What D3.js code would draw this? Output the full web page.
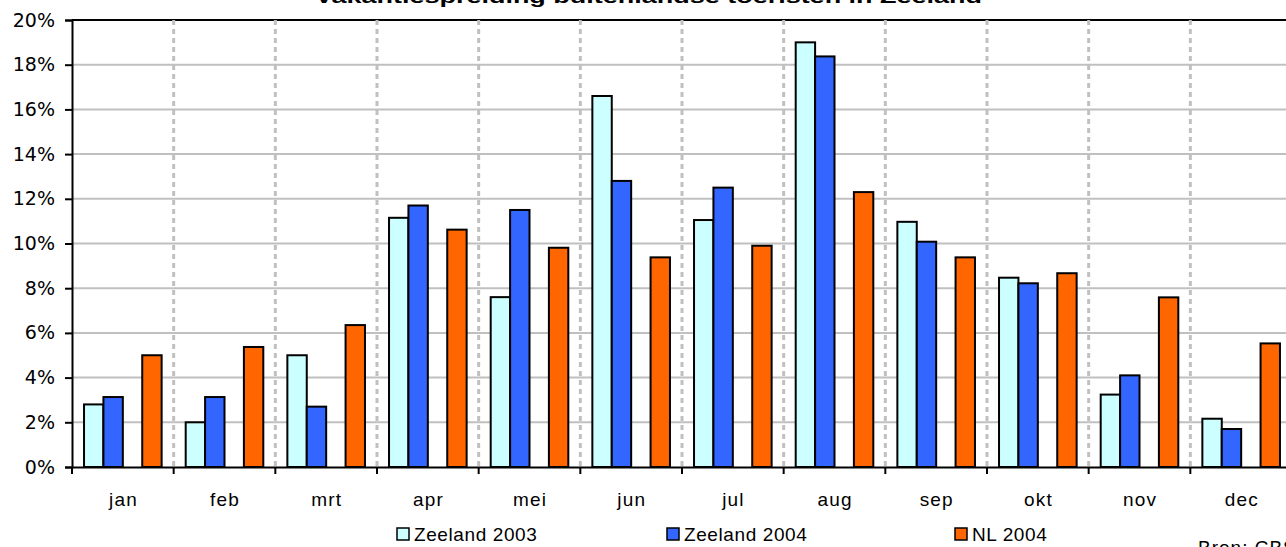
<!DOCTYPE html>
<html>
<head>
<meta charset="utf-8">
<script src="https://cdn.jsdelivr.net/npm/d3@7/dist/d3.min.js"></script>
<style>
  html, body { margin: 0; padding: 0; background: #fff; overflow: hidden; }
  svg { display: block; }
</style>
</head>
<body>
<svg id="chart" width="1286" height="547"></svg>
<script>
// ---- data ----
const months = ["jan","feb","mrt","apr","mei","jun","jul","aug","sep","okt","nov","dec"];
const zeeland2003 = [2.8, 2.0, 5.0, 11.15, 7.6, 16.6, 11.05, 19.0, 10.97, 8.47, 3.24, 2.16];
const zeeland2004 = [3.13, 3.13, 2.7, 11.7, 11.5, 12.8, 12.5, 18.37, 10.08, 8.22, 4.1, 1.7];
const nl2004 = [5.0, 5.37, 6.35, 10.62, 9.81, 9.38, 9.9, 12.3, 9.38, 8.67, 7.59, 5.53];
const seriesNames = ["Zeeland 2003", "Zeeland 2004", "NL 2004"];
const slotKeys = ["Zeeland 2003", "Zeeland 2004", "", "NL 2004"]; // third slot is empty in the original
const yTicks = [0, 2, 4, 6, 8, 10, 12, 14, 16, 18, 20];
const chartTitle = "Vakantiespreiding buitenlandse toeristen in Zeeland";
const sourceText = "Bron: CBS";

(function () {
const seriesValues = [zeeland2003, zeeland2004, nl2004];
const colors = ["#ccffff", "#3366ff", "#ff6600"];

const svg = d3.select("#chart");
const pLeft = 72, pTop = 20, pBottom = 467, pRight = 1292;

const x0 = d3.scaleBand().domain(months).range([pLeft, pRight]).paddingInner(0).paddingOuter(0);
const x1 = d3.scaleBand().domain(slotKeys).range([0, x0.bandwidth()]).paddingInner(0).paddingOuter(0.62);
const y = d3.scaleLinear().domain([0, 20]).range([pBottom, pTop]);

// gridlines
svg.append("g").selectAll("line").data(yTicks.filter(t => t > 0)).join("line")
  .attr("x1", pLeft).attr("x2", 1286)
  .attr("y1", d => y(d)).attr("y2", d => y(d))
  .attr("stroke", d => d === 20 ? "#000" : "#c0c0c0")
  .attr("stroke-width", 2);

// dashed category separators
svg.append("g").selectAll("line").data(months.slice(1)).join("line")
  .attr("x1", d => x0(d)).attr("x2", d => x0(d))
  .attr("y1", pTop).attr("y2", pBottom)
  .attr("stroke", "#c0c0c0").attr("stroke-width", 3)
  .attr("stroke-dasharray", "5,4");

// bars
seriesNames.forEach((name, si) => {
  svg.append("g").selectAll("rect").data(seriesValues[si]).join("rect")
    .attr("x", (d, i) => x0(months[i]) + x1(name))
    .attr("width", x1.bandwidth())
    .attr("y", d => y(d))
    .attr("height", d => y(0) - y(d))
    .attr("fill", colors[si])
    .attr("stroke", "#000")
    .attr("stroke-width", 2);
});

// y axis
const yAxis = d3.axisLeft(y).tickValues(yTicks).tickFormat(d => d + "%").tickSize(7).tickPadding(10);
const gy = svg.append("g").attr("transform", `translate(${pLeft},0)`).call(yAxis);
gy.select(".domain").attr("stroke", "#000").attr("stroke-width", 2);
gy.selectAll(".tick line").attr("stroke", "#000").attr("stroke-width", 2);
gy.selectAll(".tick text").attr("font-family", "DejaVu Sans, sans-serif").attr("font-size", 19)
  .attr("fill", "#000");

// x axis
const xAxis = d3.axisBottom(x0).tickSize(0).tickPadding(0);
const gx = svg.append("g").attr("transform", `translate(0,${pBottom})`).call(xAxis);
gx.select(".domain").attr("stroke", "#000").attr("stroke-width", 2);
gx.selectAll(".tick text").attr("font-family", "Liberation Sans, Arial, sans-serif").attr("font-size", 19)
  .attr("letter-spacing", "1.2px").attr("fill", "#000").attr("dy", null).attr("y", 39)
  .attr("dx", "0.6px");
// boundary ticks
svg.append("g").selectAll("line").data(months).join("line")
  .attr("x1", d => x0(d)).attr("x2", d => x0(d))
  .attr("y1", pBottom).attr("y2", pBottom + 7)
  .attr("stroke", "#000").attr("stroke-width", 2);

// title
svg.append("text").attr("x", 648.5).attr("y", 3).attr("text-anchor", "middle")
  .attr("font-family", "Liberation Sans, Arial, sans-serif").attr("font-weight", "bold")
  .attr("font-size", 19).attr("textLength", 667).attr("lengthAdjust", "spacingAndGlyphs")
  .text(chartTitle);

// legend
const legendX = [397, 667, 955];
const lg = svg.append("g");
seriesNames.forEach((name, i) => {
  lg.append("rect").attr("x", legendX[i]).attr("y", 528).attr("width", 12).attr("height", 12)
    .attr("fill", colors[i]).attr("stroke", "#000").attr("stroke-width", 1.5);
  lg.append("text").attr("x", legendX[i] + 17).attr("y", 541)
    .attr("font-family", "Liberation Sans, Arial, sans-serif").attr("font-size", 19)
    .attr("letter-spacing", "0.6px").attr("fill", "#000").text(name);
});

// source
svg.append("text").attr("x", 1198).attr("y", 554)
  .attr("font-family", "Liberation Sans, Arial, sans-serif").attr("font-size", 19)
  .attr("letter-spacing", "1px").attr("fill", "#000").text(sourceText);
})();
</script>
</body>
</html>
